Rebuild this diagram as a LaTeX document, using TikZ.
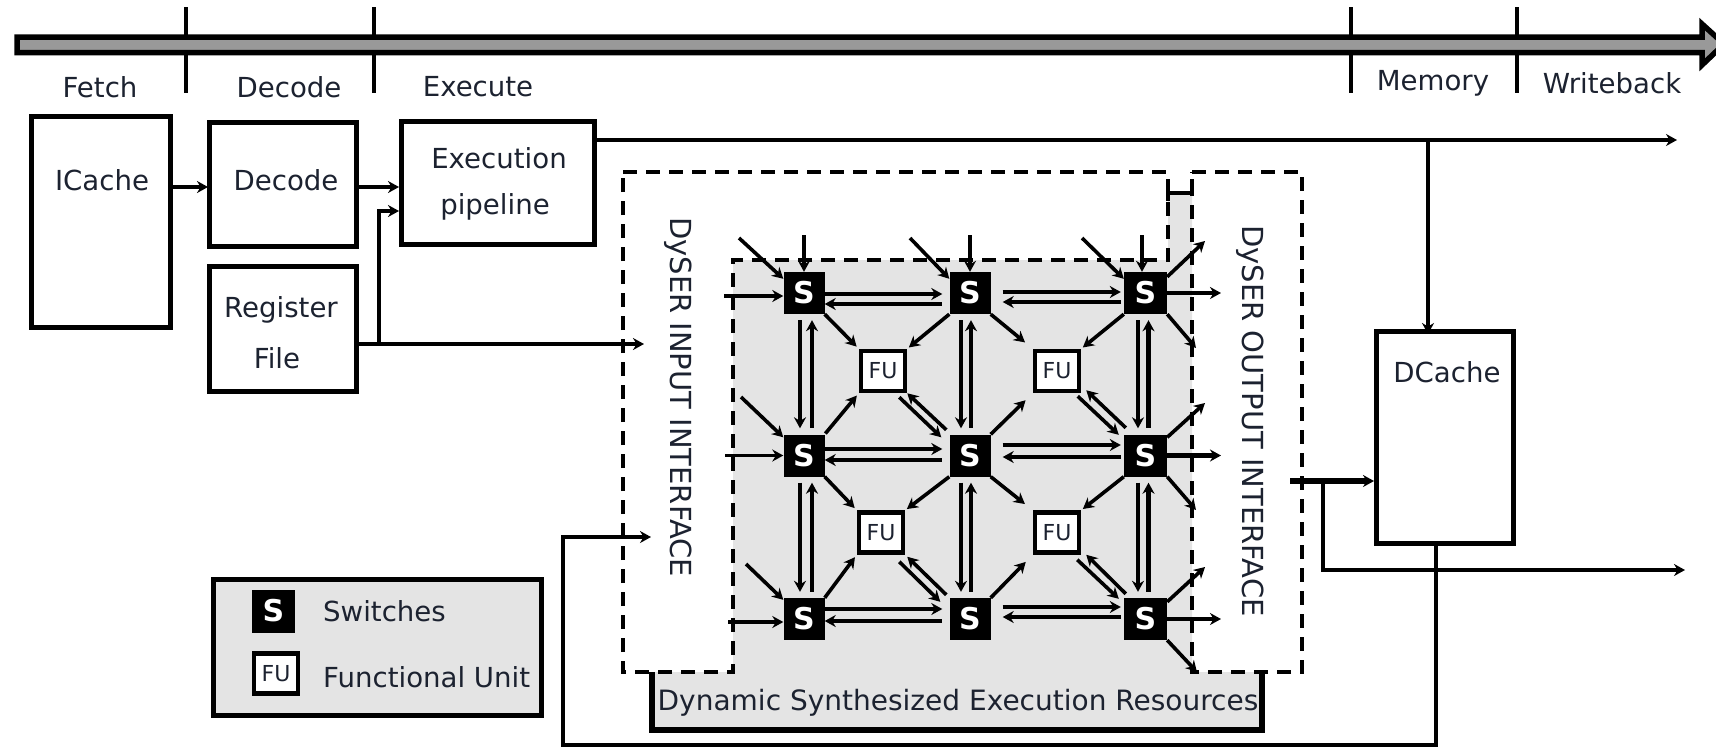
\documentclass[tikz,border=0pt]{standalone}
\usepackage{fontspec}
\setmainfont{DejaVu Sans}
\usepackage{tikz}
\usetikzlibrary{arrows.meta,positioning,calc}
\definecolor{panelgray}{HTML}{E4E4E4}
\definecolor{bargray}{HTML}{999999}
\definecolor{inktext}{HTML}{1C2230}
\tikzset{
  box/.style={draw=black, line width=5pt, inner sep=0pt},
  lbl/.style={inner sep=0pt, text=inktext, font=\fontsize{27.6}{30}\selectfont},
  swbox/.style={fill=black, text=white, inner sep=0pt, minimum width=41pt, minimum height=42pt, font=\fontsize{30}{32}\selectfont\bfseries},
  fubox/.style={draw=black, fill=white, line width=4.5pt, inner sep=0pt, minimum width=44pt, minimum height=40pt, text=inktext, font=\fontsize{22}{25}\selectfont},
  arrow/.style={-{Stealth[length=11pt,width=12pt]}, line width=4.8pt},
  rarrow/.style={{Stealth[length=11pt,width=12pt]}-, line width=4.8pt},
  thinarrow/.style={-{Stealth[length=11pt,width=12pt]}, line width=3.6pt},
  dashline/.style={line width=4.5pt, dash pattern=on 14pt off 9pt},
  tick/.style={line width=4.5pt},
  gapa/.style={shorten >=7pt},
  gapb/.style={shorten <=12pt, shorten >=3pt},
  gapv/.style={shorten <=6pt, shorten >=6pt}
}
\begin{document}
\begin{tikzpicture}[x=1pt,y=-1pt]
\clip (0,0) rectangle (1716,748);
% pipeline bar
\draw[tick] (186,7) -- (186,93);
\draw[tick] (374,7) -- (374,93);
\draw[tick] (1351,7) -- (1351,93);
\draw[tick] (1517,7) -- (1517,93);
\draw[line width=5.5pt, fill=bargray] (17,37) -- (1702,37) -- (1702,24) -- (1724,44) -- (1702,65) -- (1702,52.5) -- (17,52.5) -- cycle;
\node[lbl] (fetchlbl) at (100,87) {Fetch};
\node[lbl] (decodelbl) at (289,87) {Decode};
\node[lbl] (executelbl) at (478,87) {Execute};
\node[lbl] (memorylbl) at (1433,83) {Memory};
\node[lbl] (writebacklbl) at (1612,83) {Writeback};
% front end
\node[box, minimum width=139pt, minimum height=211pt] (icache) at (100.5,222) {};
\node[lbl] (icachelbl) at (102,180) {ICache};
\node[box, minimum width=147pt, minimum height=124pt] (decode) at (283,184.5) {};
\node[lbl] (decodeboxlbl) at (286,180) {Decode};
\node[box, minimum width=147pt, minimum height=125pt] (regfile) at (283,329) {};
\node[lbl] (reglbl) at (281,310) {Register};
\node[lbl] (filelbl) at (277,358) {File};
\node[box, minimum width=193pt, minimum height=123pt] (exec) at (498,183) {};
\node[lbl] (execlbl) at (499,158) {Execution};
\node[lbl] (pipelbl) at (495,207) {pipeline};
\node[box, minimum width=137pt, minimum height=212pt] (dcache) at (1445,437.5) {};
\node[lbl] (dcachelbl) at (1447,372) {DCache};
% dyser outlines
\fill[panelgray] (733,260) -- (1168,260) -- (1168,193) -- (1192,193) -- (1192,672) -- (1262,672) -- (1262,730) -- (652,730) -- (652,672) -- (733,672) -- cycle;
\draw[dashline] (623,172) -- (1168,172) -- (1168,260) -- (733,260) -- (733,672) -- (623,672) -- cycle;
\draw[dashline] (1192,172) -- (1302,172) -- (1302,672) -- (1192,672) -- cycle;
\draw[line width=4.5pt] (1168,201) -- (1168,193) -- (1192,193) -- (1192,179);
\draw[line width=5.5pt] (652,672) -- (652,730) -- (1262,730) -- (1262,672);
\node[lbl, rotate=-90, font=\fontsize{29}{31}\selectfont] (inlbl) at (678,397) {DySER INPUT INTERFACE};
\node[lbl, rotate=-90, font=\fontsize{29}{31}\selectfont] (outlbl) at (1250,421) {DySER OUTPUT INTERFACE};
\node[lbl, font=\fontsize{28}{30}\selectfont] (dsrlbl) at (958,703) {Dynamic Synthesized Execution Resources};
% switches and units
\node[swbox] (s11) at (804,293) {S};
\node[swbox] (s12) at (970,293) {S};
\node[swbox, minimum width=43pt] (s13) at (1145.5,293) {S};
\node[swbox] (s21) at (804,455.5) {S};
\node[swbox] (s22) at (970,455.5) {S};
\node[swbox, minimum width=43pt] (s23) at (1145.5,455.5) {S};
\node[swbox] (s31) at (804,619) {S};
\node[swbox] (s32) at (970,619) {S};
\node[swbox, minimum width=43pt] (s33) at (1145.5,619) {S};
\node[fubox] (fu11) at (883,371) {FU};
\node[fubox] (fu12) at (1057,371) {FU};
\node[fubox] (fu21) at (881,532.5) {FU};
\node[fubox] (fu22) at (1057,532.5) {FU};
% free ends
\coordinate (in11d) at (739,238); \coordinate (in11v) at (804,235); \coordinate (in11h) at (724,296);
\coordinate (in12d) at (910,238); \coordinate (in12v) at (970,235);
\coordinate (in13d) at (1082,238); \coordinate (in13v) at (1142,235);
\coordinate (in21d) at (741,397); \coordinate (in21h) at (725,455.5);
\coordinate (in31d) at (746,564); \coordinate (in31h) at (728,622);
\coordinate (out1n) at (1205,241); \coordinate (out1e) at (1221,293); \coordinate (out1s) at (1196,348);
\coordinate (out2n) at (1205,403); \coordinate (out2e) at (1221,455.5); \coordinate (out2s) at (1196,510);
\coordinate (out3n) at (1205,567); \coordinate (out3e) at (1221,619); \coordinate (out3s) at (1197,672);
\coordinate (fdin) at (208,187);
\coordinate (rftap) at (379,344);
\coordinate (rfout) at (644,344);
\coordinate (exout) at (1677,140);
\coordinate (memtap) at (1428,140);
\coordinate (dyout) at (1290,481);
\coordinate (wbtap) at (1323,481);
\coordinate (wbout) at (1685,570);
\coordinate (backcnr) at (563,745);
\coordinate (dyin) at (651,537);
% front end connectors
\draw[arrow] (fdin -| icache.east) -- (fdin);
\draw[arrow] ([yshift=-2.5pt]decode.east) -- ([yshift=-4pt]exec.west);
\draw[thinarrow, line width=4.4pt] (rfout -| regfile.east) -- (rfout);
\draw[thinarrow, line width=4.4pt] (rftap) |- ([yshift=-28pt]exec.west);
\draw[thinarrow, line width=4.4pt] (exec.east |- exout) -- (exout);
\draw[arrow, shorten >=-5pt] (memtap) -- (memtap |- dcache.north);
\draw[arrow, line width=6.5pt] (dyout) -- (dyout -| dcache.west);
\draw[thinarrow, line width=4.4pt] (wbtap) |- (wbout);
\draw[thinarrow, line width=4.4pt] ([xshift=-9pt]dcache.south) |- (backcnr) |- (dyin);
% switch to switch
\draw[arrow, gapa] ([yshift=-1pt]s11.east) -- ([yshift=-1pt]s12.west);
\draw[rarrow, gapa] ([yshift=-11pt]s11.east) -- ([yshift=-11pt]s12.west);
\draw[arrow, gapb] ([yshift=1pt]s12.east) -- ([yshift=1pt]s13.west);
\draw[arrow, shorten <=3pt, shorten >=12pt] ([yshift=-9pt]s13.west) -- ([yshift=-9pt]s12.east);
\draw[arrow, gapa] ([yshift=6.5pt]s21.east) -- ([yshift=6.5pt]s22.west);
\draw[rarrow, gapa] ([yshift=-4.5pt]s21.east) -- ([yshift=-4.5pt]s22.west);
\draw[arrow, gapb] ([yshift=10.5pt]s22.east) -- ([yshift=10.5pt]s23.west);
\draw[arrow, shorten <=3pt, shorten >=12pt] ([yshift=-1.5pt]s23.west) -- ([yshift=-1.5pt]s22.east);
\draw[arrow, gapa] ([yshift=10pt]s31.east) -- ([yshift=10pt]s32.west);
\draw[rarrow, gapa] ([yshift=-2pt]s31.east) -- ([yshift=-2pt]s32.west);
\draw[arrow, gapb] ([yshift=12pt]s32.east) -- ([yshift=12pt]s33.west);
\draw[arrow, shorten <=3pt, shorten >=12pt] ([yshift=2pt]s33.west) -- ([yshift=2pt]s32.east);
\draw[arrow, gapv] ([xshift=-4pt]s11.south) -- ([xshift=-4pt]s21.north);
\draw[rarrow, gapv] ([xshift=8pt]s11.south) -- ([xshift=8pt]s21.north);
\draw[arrow, gapv] ([xshift=-9pt]s12.south) -- ([xshift=-9pt]s22.north);
\draw[rarrow, gapv] ([xshift=1pt]s12.south) -- ([xshift=1pt]s22.north);
\draw[arrow, gapv] ([xshift=-7.5pt]s13.south) -- ([xshift=-7.5pt]s23.north);
\draw[rarrow, gapv] ([xshift=3pt]s13.south) -- ([xshift=3pt]s23.north);
\draw[arrow, gapv] ([xshift=-4pt]s21.south) -- ([xshift=-4pt]s31.north);
\draw[rarrow, gapv] ([xshift=8pt]s21.south) -- ([xshift=8pt]s31.north);
\draw[arrow, gapv] ([xshift=-9pt]s22.south) -- ([xshift=-9pt]s32.north);
\draw[rarrow, gapv] ([xshift=1pt]s22.south) -- ([xshift=1pt]s32.north);
\draw[arrow, gapv] ([xshift=-7.5pt]s23.south) -- ([xshift=-7.5pt]s33.north);
\draw[rarrow, gapv] ([xshift=3pt]s23.south) -- ([xshift=3pt]s33.north);
% switch to unit
\draw[thinarrow, shorten >=3pt] (s11.south east) -- (fu11.north west);
\draw[thinarrow, shorten >=2pt] (s12.south west) -- (fu11.north east);
\draw[thinarrow, shorten >=10pt] (s12.south east) -- (fu12.north west);
\draw[thinarrow, shorten >=2pt] (s13.south west) -- (fu12.north east);
\draw[thinarrow, shorten <=1pt, shorten >=3pt] (s21.north east) -- (fu11.south west);
\draw[thinarrow, shorten >=10pt] (s22.north east) -- (fu12.south west);
\draw[thinarrow] ([xshift=-8pt,yshift=-4pt]fu11.south east) -- ([xshift=-8pt,yshift=-3pt]s22.north west);
\draw[thinarrow] ([xshift=-3pt,yshift=4.5pt]s22.north west) -- (fu11.south east);
\draw[thinarrow] ([xshift=-3.5pt,yshift=-3pt]fu12.south east) -- ([xshift=-5pt,yshift=-0.5pt]s23.north west);
\draw[thinarrow] ([xshift=2pt,yshift=6.5pt]s23.north west) -- ([xshift=5pt,yshift=3pt]fu12.south east);
\draw[thinarrow, shorten >=3pt] (s21.south east) -- (fu21.north west);
\draw[thinarrow, shorten >=2pt] (s22.south west) -- (fu21.north east);
\draw[thinarrow, shorten >=10pt] (s22.south east) -- (fu22.north west);
\draw[thinarrow, shorten >=2pt] (s23.south west) -- (fu22.north east);
\draw[thinarrow, shorten >=3pt] (s31.north east) -- (fu21.south west);
\draw[thinarrow, shorten >=10pt] (s32.north east) -- (fu22.south west);
\draw[thinarrow] ([xshift=-6pt,yshift=-7pt]fu21.south east) -- ([xshift=-9pt,yshift=-4pt]s32.north west);
\draw[thinarrow] ([xshift=-3pt,yshift=3pt]s32.north west) -- ([xshift=2pt,yshift=-2pt]fu21.south east);
\draw[thinarrow] ([xshift=-4pt,yshift=-5pt]fu22.south east) -- ([xshift=-5pt,yshift=-1pt]s33.north west);
\draw[thinarrow] ([xshift=2pt,yshift=4pt]s33.north west) -- ([xshift=5pt]fu22.south east);
% inputs and outputs of the grid
\draw[thinarrow] (in11d) -- ([yshift=-7pt]s11.north west);
\draw[arrow] (in11v) -- (s11.north);
\draw[thinarrow] (in11h) -- ([yshift=-3pt]s11.west);
\draw[thinarrow] (in12d) -- ([yshift=-7pt]s12.north west);
\draw[thinarrow] (in12v) -- (s12.north);
\draw[thinarrow] (in13d) -- ([yshift=-7pt]s13.north west);
\draw[arrow] (in13v) -- ([xshift=-3.5pt]s13.north);
\draw[thinarrow] (in21d) -- ([yshift=-3pt]s21.north west);
\draw[thinarrow] (in21h) -- (s21.west);
\draw[thinarrow] (in31d) -- ([yshift=-2pt]s31.north west);
\draw[thinarrow] (in31h) -- ([yshift=-3pt]s31.west);
\draw[thinarrow] ([yshift=-5pt]s13.north east) -- (out1n);
\draw[arrow] (s13.east) -- (out1e);
\draw[thinarrow] (s13.south east) -- (out1s);
\draw[thinarrow] ([yshift=-3pt]s23.north east) -- (out2n);
\draw[arrow] (s23.east) -- (out2e);
\draw[thinarrow] (s23.south east) -- (out2s);
\draw[thinarrow] ([yshift=-4pt]s33.north east) -- (out3n);
\draw[arrow] (s33.east) -- (out3e);
\draw[thinarrow] (s33.south east) -- (out3s);
% legend
\node[box, fill=panelgray, minimum width=328pt, minimum height=136pt] (legend) at (377.5,647) {};
\node[swbox, minimum width=43pt, minimum height=43pt] (legsw) at (273.5,611) {S};
\node[fubox] (legfu) at (276,673.5) {FU};
\node[lbl, anchor=west] (swlbl) at (323,611) {Switches};
\node[lbl, anchor=west] (fulbl) at (323,677) {Functional Unit};
\end{tikzpicture}
\end{document}
